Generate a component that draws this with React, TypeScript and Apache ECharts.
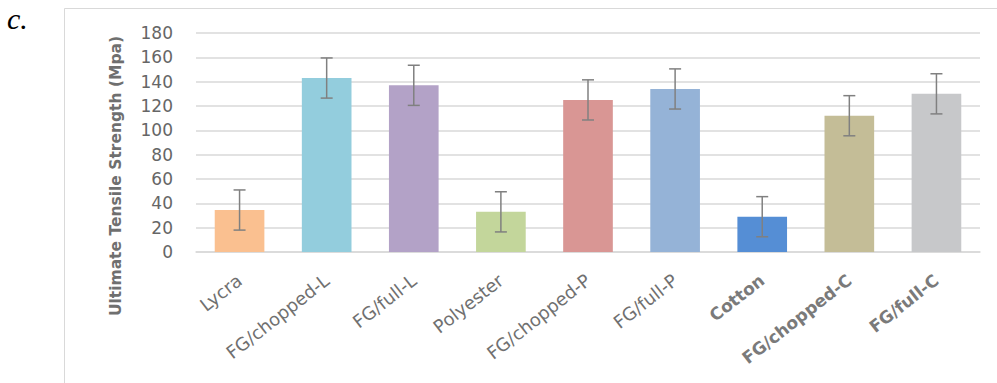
import React, { useEffect, useRef } from "react";
import * as echarts from "echarts";

const categories = [
  "Lycra",
  "FG/chopped-L",
  "FG/full-L",
  "Polyester",
  "FG/chopped-P",
  "FG/full-P",
  "Cotton",
  "FG/chopped-C",
  "FG/full-C",
];
const values = [34.5, 143, 137, 33, 125, 134, 29, 112, 130];
const errors = [16.5, 16.5, 16.5, 16.5, 16.5, 16.5, 16.5, 16.5, 16.5];
const barColors = [
  "#FAC090",
  "#93CDDD",
  "#B3A2C7",
  "#C3D69B",
  "#D99694",
  "#95B3D7",
  "#558ED5",
  "#C4BD97",
  "#C7C8CA",
];
const yTicks = { min: 0, max: 180, interval: 20 };
const yTitle = "Ultimate Tensile Strength (Mpa)";
const panelLabel = "c.";

export default function App() {
  const ref = useRef<HTMLDivElement>(null);
  useEffect(() => {
    document.body.style.margin = "0";
    const chart = echarts.init(ref.current!, undefined, { renderer: "svg" });
    const errData = values.map((v, i) => [i, v - errors[i], v + errors[i]]);
    chart.setOption({
      animation: false,
      backgroundColor: "#ffffff",
      grid: { left: 196, right: 17, top: 33, bottom: 131, containLabel: false },
      xAxis: {
        type: "category",
        data: categories,
        axisTick: { show: false },
        axisLine: { lineStyle: { color: "#d9d9d9", width: 1.5 } },
        axisLabel: {
          rotate: 38,
          margin: 26,
          interval: 0,
          fontFamily: "DejaVu Sans",
          fontSize: 18,
          color: "#707070",
          formatter: (v: string, i: number) => (i >= 6 ? `{b|${v}}` : v),
          rich: {
            b: { fontFamily: "DejaVu Sans", fontSize: 17, fontWeight: "bold", color: "#7a7a7a" },
          },
        },
      },
      yAxis: {
        type: "value",
        min: yTicks.min,
        max: yTicks.max,
        interval: yTicks.interval,
        axisLine: { show: false },
        axisTick: { show: false },
        axisLabel: {
          margin: 23,
          fontFamily: "DejaVu Sans",
          fontSize: 17,
          color: "#666666",
        },
        splitLine: { lineStyle: { color: "#d9d9d9", width: 1.5 } },
      },
      graphic: [
        {
          type: "rect",
          shape: { x: 64.5, y: 8.5, width: 1000, height: 500 },
          style: { fill: "none", stroke: "#d9d9d9", lineWidth: 1 },
          silent: true,
        },
        {
          type: "text",
          x: 116,
          y: 176,
          rotation: Math.PI / 2,
          style: {
            text: yTitle,
            fontFamily: "DejaVu Sans",
            fontWeight: "bold",
            fontSize: 15.5,
            fill: "#6f6f6f",
            align: "center",
            verticalAlign: "middle",
          },
        },
        {
          type: "text",
          x: 7,
          y: 3,
          style: {
            text: panelLabel,
            fontFamily: "Liberation Serif",
            fontStyle: "italic",
            fontSize: 30,
            fill: "#000000",
            align: "left",
            verticalAlign: "top",
          },
        },
      ],
      series: [
        {
          type: "bar",
          data: values.map((v, i) => ({ value: v, itemStyle: { color: barColors[i] } })),
          barWidth: "57%",
        },
        {
          type: "custom",
          data: errData,
          z: 10,
          renderItem: (params: any, api: any) => {
            const x = api.value(0);
            const lo = api.coord([x, api.value(1)]);
            const hi = api.coord([x, api.value(2)]);
            const hw = 6;
            const style = { stroke: "#808080", lineWidth: 1.5 };
            return {
              type: "group",
              children: [
                { type: "line", shape: { x1: hi[0], y1: hi[1], x2: lo[0], y2: lo[1] }, style },
                { type: "line", shape: { x1: hi[0] - hw, y1: hi[1], x2: hi[0] + hw, y2: hi[1] }, style },
                { type: "line", shape: { x1: lo[0] - hw, y1: lo[1], x2: lo[0] + hw, y2: lo[1] }, style },
              ],
            };
          },
        },
      ],
    });
    return () => chart.dispose();
  }, []);
  return <div ref={ref} style={{ width: 997, height: 383 }} />;
}
